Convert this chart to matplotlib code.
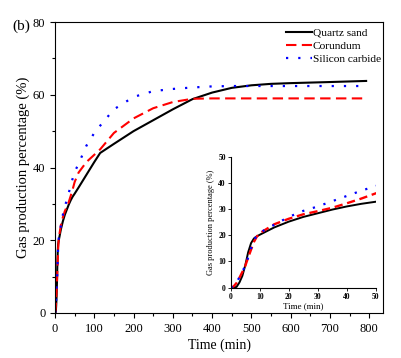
import matplotlib
matplotlib.use("Agg")
import matplotlib.pyplot as plt
from matplotlib.ticker import MultipleLocator

plt.rcParams['font.family'] = ['Liberation Serif', 'DejaVu Serif']

# Data
t_quartz = [0, 1, 2, 3, 4, 5, 6, 7, 8, 9, 10, 15, 20, 25, 30, 35, 40, 45, 50,
            60, 80, 100, 115, 150, 200, 250, 300, 350, 400, 450, 500, 550, 600, 700, 792]
v_quartz = [0, 0, 0.3, 2, 4.5, 8.5, 13.5, 17, 18.8, 19.6, 20.2, 23, 25.2, 27, 28.4, 29.8, 31, 32, 32.8,
            34.5, 38, 41.5, 44, 46.5, 50, 53, 56, 58.8, 60.6, 61.9, 62.6, 63, 63.2, 63.5, 63.8]

t_corundum = [0, 1, 2, 3, 4, 5, 6, 7, 8, 9, 10, 15, 20, 25, 30, 35, 40, 45, 50,
              60, 80, 100, 115, 150, 200, 250, 300, 350, 400, 500, 600, 700, 782]
v_corundum = [0, 0.5, 1.8, 3.8, 6, 8.3, 11.5, 14.5, 17.5, 19.5, 20.8, 24.2, 26.3, 28, 29.2, 30.5, 32.2, 34, 36,
              38.6, 41.5, 43.5, 45, 49.5, 53.5, 56.3, 58, 58.9, 59, 59, 59, 59, 59]

t_sic = [0, 1, 2, 3, 4, 5, 6, 7, 8, 9, 10, 15, 20, 25, 30, 35, 40, 45, 50,
         60, 80, 100, 115, 150, 200, 250, 300, 350, 400, 450, 500, 600, 700, 775]
v_sic = [0, 0.5, 2, 4, 6, 8.5, 11.5, 15, 18, 20, 21, 24, 27, 29.3, 31, 33, 35, 37, 38.8,
         41, 46, 49.5, 51.5, 56, 59.4, 61, 61.6, 62, 62.3, 62.4, 62.4, 62.4, 62.4, 62.4]

labels = ["Quartz sand", "Corundum", "Silicon carbide"]

fig = plt.figure(figsize=(4.02, 3.58), dpi=100)
ax = fig.add_axes([0.1368, 0.1257, 0.816, 0.8128])

ax.plot(t_quartz, v_quartz, color='black', lw=1.5, ls='-', label=labels[0])
ax.plot(t_corundum, v_corundum, color='red', lw=1.5, ls=(0, (5, 2.6)), label=labels[1])
ax.plot(t_sic, v_sic, color='blue', lw=1.6, ls=(0, (1, 4.5)), label=labels[2])

ax.set_xlim(0, 835)
ax.set_ylim(0, 80)
ax.xaxis.set_major_locator(MultipleLocator(100))
ax.xaxis.set_minor_locator(MultipleLocator(50))
ax.yaxis.set_major_locator(MultipleLocator(20))
ax.yaxis.set_minor_locator(MultipleLocator(10))
ax.tick_params(which='both', direction='out', labelsize=9, top=False, right=False)
ax.tick_params(which='major', length=3.5, width=0.8)
ax.tick_params(which='minor', length=2, width=0.8)
ax.set_xlabel("Time (min)", fontsize=10, labelpad=3)
ax.set_ylabel("Gas production percentage (%)", fontsize=10.5, labelpad=2)
fig.text(0.03, 0.918, "(b)", fontsize=11)

leg = ax.legend(loc='upper right', frameon=False, fontsize=8.2, handlelength=2.3,
                handletextpad=0.05, labelspacing=0.3, borderpad=0.1, borderaxespad=0.0,
                bbox_to_anchor=(0.997, 0.985))

# Inset
ins = fig.add_axes([0.574, 0.1964, 0.3607, 0.366])
ins.plot(t_quartz, v_quartz, color='black', lw=1.4, ls='-')
ins.plot(t_corundum, v_corundum, color='red', lw=1.7, ls=(0, (3.5, 2)))
ins.plot(t_sic, v_sic, color='blue', lw=1.6, ls=(0, (1, 4)))
ins.set_xlim(0, 50)
ins.set_ylim(0, 50)
ins.spines['top'].set_visible(False)
ins.spines['right'].set_visible(False)
ins.xaxis.set_major_locator(MultipleLocator(10))
ins.yaxis.set_major_locator(MultipleLocator(10))
ins.tick_params(which='both', direction='out', labelsize=5.5, length=2, width=0.6, pad=1.5)
for lab in ins.get_xticklabels() + ins.get_yticklabels():
    lab.set_fontweight('bold')
ins.set_xlabel("Time (min)", fontsize=6.5, labelpad=1)
ins.set_ylabel("Gas production percentage (%)", fontsize=6, labelpad=2)
ins.patch.set_alpha(0)

fig.savefig("out.png", dpi=100)
